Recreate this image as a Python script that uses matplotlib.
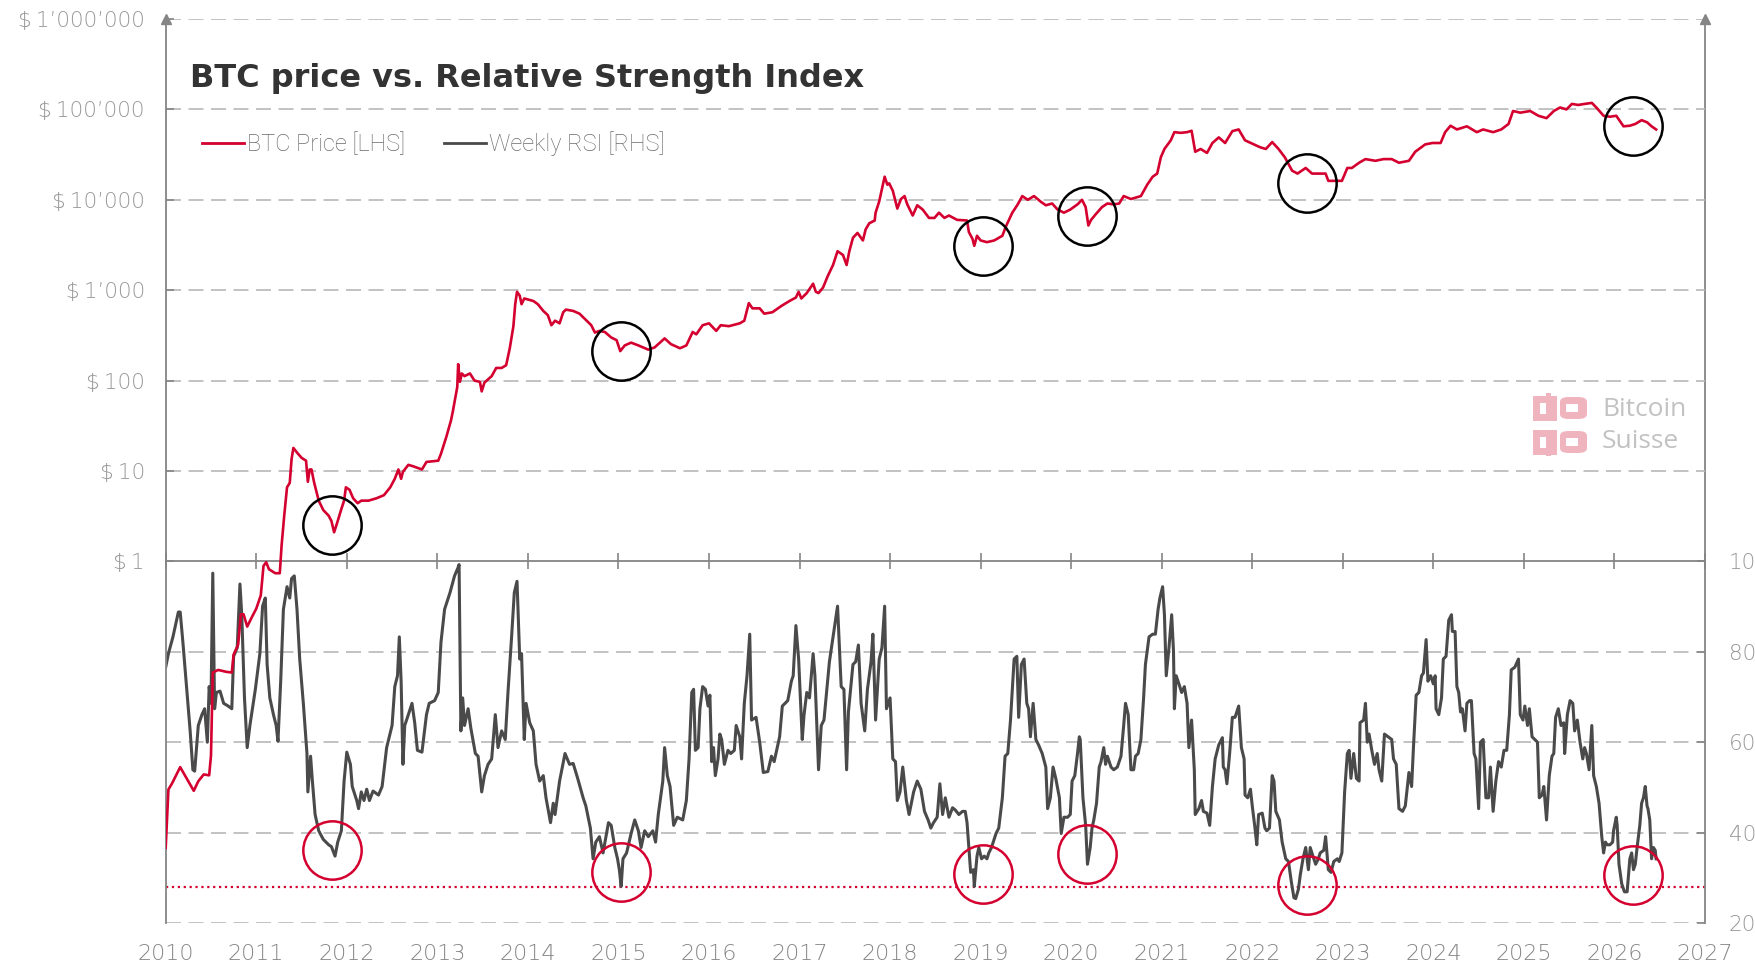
import matplotlib.pyplot as plt
from matplotlib.lines import Line2D
from matplotlib.patches import Rectangle, FancyBboxPatch
from matplotlib.ticker import NullLocator

plt.rcParams['font.family'] = ['Roboto', 'DejaVu Sans']

# weekly BTC price (USD)
price_points = [
    (2010.00, 0.00068), (2010.03, 0.0030), (2010.07, 0.0035), (2010.16, 0.0053), (2010.23, 0.0040),
    (2010.31, 0.0029), (2010.36, 0.0037), (2010.42, 0.0044), (2010.48, 0.0043), (2010.50, 0.0071),
    (2010.52, 0.059), (2010.58, 0.063), (2010.67, 0.060), (2010.73, 0.059), (2010.75, 0.093),
    (2010.80, 0.12), (2010.83, 0.26), (2010.86, 0.26), (2010.90, 0.19), (2010.95, 0.24),
    (2011.00, 0.30), (2011.05, 0.42), (2011.08, 0.89), (2011.11, 0.98), (2011.14, 0.82),
    (2011.21, 0.74), (2011.26, 0.74), (2011.28, 1.5), (2011.31, 3.3), (2011.34, 6.6),
    (2011.37, 7.4), (2011.39, 13.5), (2011.41, 18), (2011.45, 16), (2011.50, 14),
    (2011.55, 13), (2011.57, 7.6), (2011.59, 10.4), (2011.61, 10.4), (2011.64, 7.4),
    (2011.69, 4.7), (2011.74, 3.7), (2011.80, 3.2), (2011.83, 2.8), (2011.86, 2.1),
    (2011.89, 2.6), (2011.94, 3.8), (2011.97, 4.7), (2011.99, 6.6), (2012.03, 6.2),
    (2012.07, 5.0), (2012.12, 4.4), (2012.16, 4.7), (2012.24, 4.7), (2012.33, 5.0),
    (2012.41, 5.4), (2012.48, 6.6), (2012.53, 8.2), (2012.57, 10.4), (2012.60, 8.2),
    (2012.62, 9.8), (2012.68, 11.7), (2012.73, 11.3), (2012.83, 10.4), (2012.88, 12.6),
    (2013.01, 13), (2013.04, 15.5), (2013.10, 24), (2013.15, 36), (2013.17, 45),
    (2013.22, 85), (2013.23, 152), (2013.25, 97), (2013.27, 120), (2013.30, 112),
    (2013.36, 120), (2013.41, 100), (2013.47, 97), (2013.49, 76), (2013.52, 95),
    (2013.60, 112), (2013.65, 138), (2013.71, 138), (2013.76, 148), (2013.80, 228),
    (2013.84, 400), (2013.86, 700), (2013.88, 960), (2013.91, 870), (2013.93, 700),
    (2013.96, 810), (2014.00, 790), (2014.06, 760), (2014.11, 700), (2014.17, 590),
    (2014.22, 530), (2014.26, 410), (2014.30, 460), (2014.35, 430), (2014.39, 570),
    (2014.42, 610), (2014.50, 590), (2014.57, 550), (2014.64, 470), (2014.70, 410),
    (2014.74, 340), (2014.79, 355), (2014.85, 345), (2014.92, 300), (2014.98, 280),
    (2015.02, 212), (2015.07, 245), (2015.14, 263), (2015.22, 245), (2015.33, 220),
    (2015.40, 233), (2015.51, 293), (2015.58, 253), (2015.68, 228), (2015.75, 245),
    (2015.82, 345), (2015.86, 325), (2015.93, 410), (2016.00, 430), (2016.08, 355),
    (2016.13, 410), (2016.22, 400), (2016.34, 430), (2016.39, 460), (2016.44, 720),
    (2016.48, 630), (2016.56, 630), (2016.61, 550), (2016.70, 570), (2016.80, 670),
    (2016.89, 760), (2016.96, 830), (2016.99, 960), (2017.02, 810), (2017.08, 930),
    (2017.15, 1180), (2017.18, 960), (2017.21, 930), (2017.26, 1070), (2017.31, 1420),
    (2017.37, 1900), (2017.42, 2700), (2017.48, 2450), (2017.52, 1900), (2017.55, 2700),
    (2017.59, 3800), (2017.64, 4300), (2017.70, 3550), (2017.73, 4700), (2017.77, 5500),
    (2017.83, 5900), (2017.84, 7200), (2017.88, 9600), (2017.92, 14700), (2017.94, 18000),
    (2017.97, 14700), (2017.99, 15200), (2018.03, 12600), (2018.08, 8000), (2018.12, 10200),
    (2018.16, 11000), (2018.19, 8900), (2018.25, 6700), (2018.30, 8700), (2018.36, 7800),
    (2018.43, 6300), (2018.49, 6300), (2018.54, 7200), (2018.60, 6300), (2018.65, 6700),
    (2018.74, 6000), (2018.85, 5900), (2018.87, 4400), (2018.91, 3700), (2018.93, 3100),
    (2018.96, 4000), (2019.00, 3550), (2019.07, 3400), (2019.15, 3550), (2019.24, 4000),
    (2019.28, 5100), (2019.35, 7200), (2019.41, 8900), (2019.46, 11000), (2019.52, 10000),
    (2019.59, 11000), (2019.66, 9600), (2019.72, 8700), (2019.79, 9100), (2019.85, 7800),
    (2019.92, 7200), (2019.99, 7800), (2020.07, 8900), (2020.12, 10000), (2020.16, 8300),
    (2020.19, 5200), (2020.22, 6000), (2020.27, 6900), (2020.34, 8300), (2020.40, 9100),
    (2020.47, 8900), (2020.53, 9100), (2020.58, 11000), (2020.66, 10200), (2020.77, 11000),
    (2020.84, 14700), (2020.90, 18000), (2020.95, 19500), (2020.99, 29500), (2021.03, 36500),
    (2021.10, 45500), (2021.14, 56000), (2021.21, 55000), (2021.28, 56000), (2021.33, 58000),
    (2021.37, 34000), (2021.43, 36500), (2021.50, 33000), (2021.56, 42500), (2021.63, 49000),
    (2021.70, 42500), (2021.78, 57500), (2021.85, 60000), (2021.92, 45500), (2022.02, 41000),
    (2022.09, 38000), (2022.15, 36500), (2022.22, 43500), (2022.29, 36500), (2022.36, 29500),
    (2022.44, 21000), (2022.50, 19500), (2022.59, 22500), (2022.66, 19500), (2022.73, 19500),
    (2022.81, 19500), (2022.84, 16200), (2022.92, 16200), (2022.99, 16200), (2023.05, 22500),
    (2023.10, 22500), (2023.18, 25700), (2023.25, 28200), (2023.36, 27000), (2023.45, 28200),
    (2023.54, 28200), (2023.62, 25700), (2023.73, 27000), (2023.80, 34000), (2023.91, 41000),
    (2023.99, 42500), (2024.08, 42500), (2024.13, 56000), (2024.19, 66000), (2024.26, 60000),
    (2024.37, 65000), (2024.48, 56000), (2024.55, 60000), (2024.66, 56000), (2024.75, 60000),
    (2024.83, 69000), (2024.88, 96000), (2024.96, 92000), (2025.07, 96000), (2025.16, 85000),
    (2025.25, 80000), (2025.33, 96000), (2025.40, 105000), (2025.47, 100000), (2025.53, 115000),
    (2025.60, 112000), (2025.67, 115000), (2025.75, 118000), (2025.80, 105000), (2025.88, 85000),
    (2025.95, 83000), (2026.02, 85000), (2026.10, 65000), (2026.17, 66000), (2026.23, 69000),
    (2026.30, 76000), (2026.36, 72000), (2026.41, 65000), (2026.46, 60000),
]

# weekly RSI
rsi_points = [
    (2010.00, 76.6), (2010.03, 79.6), (2010.08, 83.3), (2010.14, 88.8), (2010.16, 88.8),
    (2010.19, 82.1), (2010.23, 72.3), (2010.27, 62.5), (2010.30, 53.9), (2010.32, 53.6),
    (2010.36, 63.7), (2010.40, 66.1), (2010.43, 67.4), (2010.46, 60.0), (2010.48, 72.3),
    (2010.50, 68.6), (2010.52, 97.4), (2010.54, 67.4), (2010.56, 71.0), (2010.60, 71.3),
    (2010.64, 68.6), (2010.69, 68.0), (2010.73, 67.4), (2010.75, 79.0), (2010.79, 80.9),
    (2010.82, 95.0), (2010.84, 88.2), (2010.87, 69.8), (2010.90, 58.8), (2010.93, 63.7),
    (2010.99, 71.7), (2011.04, 79.6), (2011.07, 90.1), (2011.10, 91.9), (2011.12, 77.2),
    (2011.15, 69.8), (2011.19, 66.1), (2011.22, 63.7), (2011.24, 60.2), (2011.27, 73.5),
    (2011.30, 89.4), (2011.34, 94.4), (2011.37, 91.9), (2011.39, 96.2), (2011.42, 96.8),
    (2011.45, 89.4), (2011.48, 78.4), (2011.52, 68.6), (2011.56, 57.5), (2011.57, 49.0),
    (2011.60, 56.9), (2011.62, 51.4), (2011.65, 44.0), (2011.69, 40.4), (2011.74, 38.5),
    (2011.80, 37.3), (2011.83, 36.9), (2011.87, 34.8), (2011.90, 37.9), (2011.94, 40.4),
    (2011.97, 51.4), (2012.00, 57.8), (2012.04, 55.1), (2012.06, 50.2), (2012.11, 47.1),
    (2012.13, 45.3), (2012.16, 49.0), (2012.19, 47.1), (2012.22, 49.6), (2012.25, 47.1),
    (2012.29, 49.2), (2012.35, 48.3), (2012.39, 50.2), (2012.44, 58.8), (2012.50, 63.7),
    (2012.53, 72.3), (2012.56, 74.7), (2012.58, 83.3), (2012.60, 73.5), (2012.62, 55.1),
    (2012.64, 63.7), (2012.68, 66.1), (2012.72, 68.6), (2012.75, 64.3), (2012.78, 58.2),
    (2012.83, 57.8), (2012.88, 66.1), (2012.91, 68.6), (2012.97, 69.2), (2013.01, 71.0),
    (2013.04, 82.1), (2013.08, 89.4), (2013.14, 93.1), (2013.19, 96.8), (2013.23, 98.7),
    (2013.24, 99.3), (2013.26, 62.5), (2013.28, 69.8), (2013.30, 63.7), (2013.34, 67.4),
    (2013.37, 63.1), (2013.42, 57.5), (2013.45, 56.9), (2013.49, 49.0), (2013.52, 52.6),
    (2013.56, 55.1), (2013.60, 56.3), (2013.64, 66.1), (2013.67, 58.8), (2013.71, 62.5),
    (2013.75, 60.6), (2013.78, 71.0), (2013.82, 83.3), (2013.85, 93.1), (2013.88, 95.6),
    (2013.91, 78.4), (2013.93, 79.6), (2013.96, 60.6), (2013.98, 68.6), (2014.02, 64.3),
    (2014.06, 62.5), (2014.09, 55.1), (2014.13, 51.4), (2014.17, 52.6), (2014.20, 47.7),
    (2014.25, 42.2), (2014.28, 46.5), (2014.30, 44.0), (2014.35, 51.4), (2014.41, 57.5),
    (2014.46, 55.1), (2014.50, 55.3), (2014.55, 52.0), (2014.61, 47.7), (2014.64, 45.9),
    (2014.69, 41.0), (2014.72, 34.2), (2014.75, 37.9), (2014.79, 39.1), (2014.83, 35.5),
    (2014.89, 42.2), (2014.92, 41.6), (2014.96, 36.7), (2014.99, 34.2), (2015.01, 31.8),
    (2015.03, 28.1), (2015.05, 34.2), (2015.09, 35.5), (2015.14, 39.8), (2015.18, 42.8),
    (2015.22, 40.4), (2015.25, 36.7), (2015.29, 40.4), (2015.33, 39.1), (2015.38, 40.4),
    (2015.41, 37.9), (2015.44, 44.0), (2015.49, 51.4), (2015.51, 58.8), (2015.54, 52.6),
    (2015.57, 50.2), (2015.61, 41.6), (2015.65, 43.4), (2015.71, 42.8), (2015.75, 47.1),
    (2015.78, 56.3), (2015.81, 71.0), (2015.83, 71.7), (2015.85, 58.2), (2015.88, 58.8),
    (2015.90, 67.4), (2015.93, 72.3), (2015.96, 71.7), (2015.99, 68.0), (2016.01, 70.4),
    (2016.03, 55.7), (2016.05, 58.8), (2016.07, 52.6), (2016.10, 56.3), (2016.12, 61.8),
    (2016.14, 60.6), (2016.17, 55.1), (2016.21, 58.2), (2016.24, 57.5), (2016.28, 58.2),
    (2016.30, 63.7), (2016.34, 61.2), (2016.36, 56.3), (2016.39, 68.6), (2016.42, 74.7),
    (2016.45, 83.9), (2016.47, 64.9), (2016.52, 65.5), (2016.56, 60.0), (2016.60, 53.3),
    (2016.65, 53.5), (2016.69, 56.9), (2016.72, 55.7), (2016.78, 61.2), (2016.81, 68.0),
    (2016.87, 69.2), (2016.91, 73.5), (2016.93, 74.7), (2016.96, 85.8), (2016.99, 78.4),
    (2017.03, 60.6), (2017.05, 66.1), (2017.08, 71.0), (2017.11, 69.8), (2017.15, 79.6),
    (2017.17, 74.7), (2017.21, 53.9), (2017.24, 63.7), (2017.27, 64.9), (2017.33, 77.8),
    (2017.37, 83.3), (2017.42, 90.1), (2017.46, 72.3), (2017.49, 71.7), (2017.52, 53.9),
    (2017.54, 66.7), (2017.59, 77.2), (2017.62, 77.8), (2017.65, 81.5), (2017.68, 68.6),
    (2017.72, 62.5), (2017.75, 71.7), (2017.79, 77.8), (2017.81, 83.9), (2017.84, 64.9),
    (2017.88, 78.4), (2017.91, 80.9), (2017.94, 90.1), (2017.96, 67.4), (2017.97, 68.0),
    (2018.00, 69.8), (2018.03, 56.3), (2018.06, 55.7), (2018.08, 47.1), (2018.11, 49.0),
    (2018.14, 54.5), (2018.18, 47.1), (2018.21, 44.0), (2018.26, 49.0), (2018.30, 51.4),
    (2018.34, 49.6), (2018.38, 44.7), (2018.42, 42.8), (2018.45, 41.0), (2018.48, 42.2),
    (2018.52, 43.4), (2018.55, 50.8), (2018.58, 44.0), (2018.61, 47.7), (2018.65, 43.4),
    (2018.69, 45.5), (2018.72, 45.0), (2018.76, 44.0), (2018.80, 44.7), (2018.83, 44.7),
    (2018.85, 42.2), (2018.87, 36.7), (2018.89, 31.2), (2018.92, 31.8), (2018.93, 28.1),
    (2018.96, 34.8), (2018.98, 36.7), (2019.01, 34.2), (2019.04, 34.8), (2019.07, 34.2),
    (2019.09, 35.5), (2019.12, 36.7), (2019.17, 39.8), (2019.20, 41.0), (2019.24, 47.7),
    (2019.27, 56.9), (2019.30, 57.5), (2019.33, 64.9), (2019.37, 78.4), (2019.40, 79.0),
    (2019.42, 65.5), (2019.45, 77.2), (2019.48, 78.4), (2019.51, 68.6), (2019.53, 67.4),
    (2019.55, 61.2), (2019.58, 68.6), (2019.61, 60.6), (2019.64, 59.4), (2019.68, 57.5),
    (2019.72, 54.5), (2019.74, 45.3), (2019.77, 47.7), (2019.80, 54.5), (2019.83, 52.0),
    (2019.87, 47.7), (2019.89, 39.8), (2019.92, 43.4), (2019.96, 43.4), (2019.99, 44.0),
    (2020.01, 51.4), (2020.04, 52.6), (2020.07, 57.5), (2020.09, 61.2), (2020.10, 60.6),
    (2020.13, 47.7), (2020.16, 41.6), (2020.18, 33.0), (2020.21, 36.7), (2020.23, 41.0),
    (2020.25, 42.8), (2020.28, 46.5), (2020.31, 54.5), (2020.33, 55.7), (2020.36, 58.8),
    (2020.38, 55.1), (2020.40, 56.9), (2020.44, 54.5), (2020.47, 53.9), (2020.51, 54.5),
    (2020.55, 56.9), (2020.58, 63.7), (2020.60, 68.6), (2020.63, 66.1), (2020.66, 53.9),
    (2020.69, 53.9), (2020.71, 56.9), (2020.74, 57.5), (2020.77, 60.6), (2020.80, 69.8),
    (2020.82, 77.2), (2020.86, 83.3), (2020.90, 83.9), (2020.93, 83.9), (2020.96, 89.4),
    (2020.98, 91.9), (2021.01, 94.4), (2021.03, 88.2), (2021.05, 74.7), (2021.08, 80.9),
    (2021.11, 88.2), (2021.13, 80.2), (2021.14, 67.4), (2021.16, 74.7), (2021.19, 72.9),
    (2021.22, 71.0), (2021.25, 72.3), (2021.28, 68.6), (2021.30, 58.8), (2021.33, 64.9),
    (2021.36, 53.9), (2021.37, 44.0), (2021.41, 45.3), (2021.44, 47.1), (2021.46, 44.7),
    (2021.50, 44.3), (2021.53, 41.6), (2021.56, 50.2), (2021.59, 56.3), (2021.63, 59.4),
    (2021.67, 61.0), (2021.68, 54.5), (2021.70, 53.9), (2021.72, 50.8), (2021.75, 57.5),
    (2021.78, 65.5), (2021.81, 65.5), (2021.85, 68.0), (2021.88, 58.8), (2021.91, 56.3),
    (2021.92, 48.3), (2021.95, 47.7), (2021.98, 49.6), (2022.00, 45.9), (2022.03, 41.0),
    (2022.05, 37.3), (2022.07, 44.0), (2022.11, 44.3), (2022.14, 41.0), (2022.16, 40.4),
    (2022.19, 41.0), (2022.22, 52.6), (2022.24, 51.4), (2022.26, 44.7), (2022.30, 42.8),
    (2022.33, 37.9), (2022.37, 34.2), (2022.40, 33.6), (2022.43, 29.3), (2022.46, 25.6),
    (2022.48, 25.4), (2022.51, 27.5), (2022.53, 30.6), (2022.56, 34.2), (2022.59, 36.7),
    (2022.62, 31.8), (2022.64, 36.7), (2022.67, 34.8), (2022.70, 33.0), (2022.73, 34.2),
    (2022.75, 35.5), (2022.79, 36.1), (2022.81, 39.1), (2022.84, 31.8), (2022.87, 31.2),
    (2022.90, 33.6), (2022.94, 34.2), (2022.96, 33.6), (2022.99, 35.5), (2023.02, 49.0),
    (2023.05, 57.5), (2023.07, 58.2), (2023.09, 52.0), (2023.12, 57.5), (2023.15, 52.0),
    (2023.18, 51.4), (2023.19, 64.3), (2023.23, 64.9), (2023.25, 68.6), (2023.27, 60.0),
    (2023.29, 61.8), (2023.32, 58.2), (2023.35, 55.1), (2023.38, 57.5), (2023.40, 53.9),
    (2023.43, 51.4), (2023.46, 61.8), (2023.50, 61.2), (2023.54, 60.6), (2023.56, 56.3),
    (2023.59, 55.1), (2023.62, 45.3), (2023.66, 44.7), (2023.69, 45.9), (2023.73, 53.3),
    (2023.76, 50.2), (2023.78, 58.8), (2023.81, 70.4), (2023.84, 71.0), (2023.87, 74.7),
    (2023.89, 75.3), (2023.92, 82.7), (2023.94, 73.5), (2023.97, 74.7), (2024.00, 72.9),
    (2024.02, 74.7), (2024.03, 67.4), (2024.06, 66.1), (2024.09, 69.8), (2024.11, 78.4),
    (2024.14, 79.0), (2024.17, 87.0), (2024.20, 88.2), (2024.21, 84.5), (2024.24, 84.5),
    (2024.26, 72.3), (2024.28, 71.0), (2024.30, 66.7), (2024.32, 67.4), (2024.35, 62.5),
    (2024.37, 68.6), (2024.40, 69.2), (2024.42, 69.2), (2024.45, 57.5), (2024.47, 56.3),
    (2024.50, 45.3), (2024.52, 60.0), (2024.55, 60.6), (2024.58, 47.7), (2024.61, 47.7),
    (2024.63, 54.5), (2024.66, 44.7), (2024.69, 51.4), (2024.72, 55.7), (2024.75, 54.5),
    (2024.78, 58.2), (2024.81, 58.2), (2024.84, 66.1), (2024.86, 76.0), (2024.90, 76.6),
    (2024.94, 78.4), (2024.96, 66.1), (2024.99, 64.9), (2025.01, 68.0), (2025.04, 63.7),
    (2025.06, 67.4), (2025.09, 61.2), (2025.12, 60.6), (2025.15, 60.0), (2025.17, 47.7),
    (2025.20, 48.3), (2025.22, 50.2), (2025.25, 42.8), (2025.28, 52.6), (2025.31, 56.9),
    (2025.33, 57.5), (2025.35, 65.5), (2025.38, 67.4), (2025.41, 63.7), (2025.44, 64.3),
    (2025.45, 57.5), (2025.48, 66.1), (2025.51, 69.2), (2025.54, 68.6), (2025.56, 62.5),
    (2025.59, 64.9), (2025.62, 60.0), (2025.65, 56.3), (2025.67, 58.8), (2025.69, 57.5),
    (2025.72, 53.9), (2025.75, 63.7), (2025.77, 52.6), (2025.80, 50.2), (2025.83, 46.5),
    (2025.86, 39.1), (2025.88, 35.5), (2025.90, 37.9), (2025.92, 37.3), (2025.95, 37.3),
    (2025.98, 37.9), (2025.99, 40.4), (2026.02, 43.4), (2026.03, 41.6), (2026.05, 33.0),
    (2026.08, 28.7), (2026.11, 26.9), (2026.14, 26.9), (2026.15, 29.3), (2026.17, 34.2),
    (2026.19, 35.5), (2026.21, 31.8), (2026.23, 33.0), (2026.25, 36.7), (2026.28, 41.6),
    (2026.30, 46.5), (2026.32, 47.7), (2026.34, 50.2), (2026.36, 45.9), (2026.37, 45.3),
    (2026.39, 42.8), (2026.41, 34.2), (2026.43, 36.7), (2026.45, 36.1), (2026.46, 34.2),
]

# highlighted lows
circle_year = [2011.84, 2015.03, 2019.03, 2020.18, 2022.61, 2026.20]
circle_price = [2.55, 215, 3100, 6700, 15400, 65000]
circle_rsi = [36.1, 31.2, 30.9, 35.2, 28.4, 30.7]
rsi_floor = 28

price_ticks = [1, 10, 100, 1000, 10000, 100000, 1000000]
price_labels = ["$\u20091", "$\u200910", "$\u2009100", "$\u20091\u2019000", "$\u200910\u2019000",
                "$\u2009100\u2019000", "$\u20091\u2019000\u2019000"]
rsi_ticks = [20, 40, 60, 80, 100]
years = list(range(2010, 2028))

price_year, price_usd = zip(*price_points)
rsi_year, rsi_value = zip(*rsi_points)

RED = '#d4002f'
DARK = '#4a4a4a'
AXIS = '#858585'
GRID = '#b8b8b8'
LABEL = '#979797'
W, H = 1755, 966

fig = plt.figure(figsize=(W / 100, H / 100), dpi=100)
ax = fig.add_axes([165.7 / W, 1 - 923 / H, (1705 - 165.7) / W, (923 - 19) / H])
ax2 = ax.twinx()
ax.set_zorder(ax2.get_zorder() + 1)
ax.patch.set_visible(False)

ax.set_yscale('log')
ax.set_ylim(1e-4, 1e6)
ax2.set_ylim(20, 220)
ax.set_xlim(2010, 2027)

dash = (0, (9, 4.5))
for v in price_ticks[1:]:
    ax.axhline(v, color=GRID, lw=1.2, ls=dash, zorder=0)
for v in rsi_ticks[:-1]:
    ax2.axhline(v, color=GRID, lw=1.2, ls=dash, zorder=0)

# spines
for s in ['top', 'right']:
    ax.spines[s].set_visible(False)
for s in ['top', 'left', 'bottom']:
    ax2.spines[s].set_visible(False)
ax.spines['left'].set_color(AXIS)
ax.spines['left'].set_linewidth(1.3)
ax2.spines['right'].set_color(AXIS)
ax2.spines['right'].set_linewidth(1.3)
ax.spines['bottom'].set_position(('data', 1))
ax.spines['bottom'].set_color(AXIS)
ax.spines['bottom'].set_linewidth(1.3)
ax.plot([0, 1], [1, 1], ls='none', marker='^', ms=7, color=AXIS,
        transform=ax.transAxes, clip_on=False, zorder=5)

# ticks
tick_font = {'family': 'DejaVu Sans', 'weight': 'light'}
ax.set_yticks(price_ticks)
ax.set_yticklabels(price_labels, fontdict=tick_font)
ax.yaxis.set_minor_locator(NullLocator())
ax.tick_params(axis='y', direction='in', length=6, width=1.2, color=AXIS,
               pad=15, labelsize=15.5, labelcolor=LABEL)
ax2.set_yticks(rsi_ticks)
ax2.set_yticklabels([str(v) for v in rsi_ticks], fontdict=tick_font)
ax2.tick_params(axis='y', direction='in', length=6, width=1.2, color=AXIS,
                pad=17, labelsize=15.5, labelcolor=LABEL)
ax.set_xticks(years)
ax.tick_params(axis='x', direction='inout', length=12, width=1.2, color=AXIS,
               labelbottom=False)
sec = ax.secondary_xaxis('bottom')
sec.set_xticks(years)
sec.set_xticklabels([str(y) for y in years], fontdict=tick_font)
sec.tick_params(length=0, pad=15, labelsize=16, labelcolor='#858585')
sec.spines['bottom'].set_visible(False)

# series
ax2.axhline(rsi_floor, color=RED, ls=':', lw=1.6, zorder=1)
ax2.plot(rsi_year, rsi_value, color=DARK, lw=2.2, zorder=2)
ax.plot(price_year, price_usd, color=RED, lw=1.9, zorder=3)
ax.plot(circle_year, circle_price, ls='none', marker='o', ms=42, mfc='none',
        mec='black', mew=1.8, zorder=4)
ax2.plot(circle_year, circle_rsi, ls='none', marker='o', ms=42, mfc='none',
         mec=RED, mew=1.8, zorder=4)

handles = [Line2D([], [], color=RED, lw=2), Line2D([], [], color=DARK, lw=2)]
ax.legend(handles, ['BTC Price [LHS]', 'Weekly RSI [RHS]'], loc='center left',
          bbox_to_anchor=(0.01, 0.862), frameon=False, ncol=2,
          handlelength=1.75, handletextpad=0.15, columnspacing=1.65,
          labelcolor='#6a6a6a', prop={'weight': 'light', 'size': 17})

fig.text(190 / W, 1 - 78 / H, 'BTC price vs. Relative Strength Index', fontsize=23,
         family='DejaVu Sans', fontweight='bold', color='#333333', va='center', ha='left')

# watermark
PINK = '#f0b4be'
def fx(x):
    return x / W
def fy(y):
    return 1 - y / H
for top in (398, 432):
    fig.patches.append(Rectangle((fx(1536), fy(top + 19)), 17 / W, 18 / H,
                                 fill=False, ec=PINK, lw=5, transform=fig.transFigure))
    fig.patches.append(FancyBboxPatch((fx(1560), fy(top + 21)), 27 / W, 22 / H,
                                      boxstyle='round,pad=0,rounding_size=0.005',
                                      fc=PINK, ec='none', transform=fig.transFigure))
    fig.patches.append(Rectangle((fx(1566), fy(top + 14)), 12 / W, 8 / H,
                                 fc='white', ec='none', transform=fig.transFigure))
    fig.patches.append(Rectangle((fx(1546), fy(top + 24 if top > 400 else top + 20)), 5 / W, 25 / H,
                                 fc=PINK, ec='none', transform=fig.transFigure))
fig.text(fx(1602), fy(409), 'Bitcoin', family='Open Sans', fontsize=19, color='#c2c2c2', va='center')
fig.text(fx(1602), fy(442), 'Suisse', family='Open Sans', fontsize=19, color='#c2c2c2', va='center')

fig.savefig('out.png', dpi=100)
